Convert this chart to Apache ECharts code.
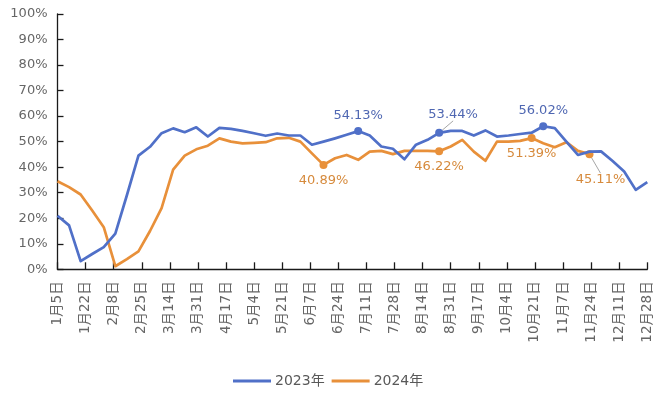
<!DOCTYPE html>
<html>
<head>
<meta charset="utf-8">
<script src="https://cdn.jsdelivr.net/npm/echarts@6/dist/echarts.min.js"></script>
<style>
html,body{margin:0;padding:0;background:#fff;}
#chart{width:666px;height:393px;}
</style>
</head>
<body>
<div id="chart"></div>
<script>
// Tick labels along the date axis (every 17 days from 1月5日)
const tickLabels = ['1月5日','1月22日','2月8日','2月25日','3月14日','3月31日','4月17日','5月4日','5月21日','6月7日','6月24日','7月11日','7月28日','8月14日','8月31日','9月17日','10月4日','10月21日','11月7日','11月24日','12月11日','12月28日'];
const TICK_DAYS = 17;
const WEEK_DAYS = 7;

const seriesNames = ['2023年', '2024年'];

// Weekly values (%), first week = 1月5日
const values2023 = [21.0, 17.2, 3.2, 6.0, 8.7, 14.0, 29.0, 44.5, 48.0, 53.3,
  55.2, 53.7, 55.6, 52.0, 55.4, 55.0, 54.2, 53.3, 52.3, 53.2,
  52.4, 52.4, 48.8, 50.0, 51.3, 52.7, 54.13, 52.4, 48.1, 47.2,
  43.1, 48.8, 50.7, 53.44, 54.2, 54.2, 52.4, 54.4, 52.0, 52.4,
  53.0, 53.5, 56.02, 55.3, 50.0, 44.8, 46.1, 46.2, 42.4, 38.3,
  31.1, 34.1];

const values2024 = [34.5, 32.2, 29.3, 23.0, 16.5, 1.2, 4.0, 7.0, 15.0, 24.0,
  39.0, 44.5, 47.0, 48.4, 51.3, 50.0, 49.3, 49.5, 49.8, 51.3,
  51.5, 50.0, 45.4, 40.89, 43.5, 44.8, 42.9, 46.1, 46.4, 45.1,
  46.4, 46.4, 46.4, 46.22, 48.1, 50.7, 46.1, 42.5, 50.0, 50.0,
  50.3, 51.39, 49.4, 47.8, 49.8, 46.4, 45.11];

// Week indices whose values are marked and labelled
const marked2023 = [26, 33, 42];
const marked2024 = [23, 33, 41, 46];

const blue = '#5070c8';
const orange = '#e8903a';
const blueText = '#4f67b2';
const orangeText = '#d68a3c';
const FONT = "'DejaVu Sans','Noto Sans CJK SC',sans-serif";

// label placement tweaks (style only): [dx, dy, leader line?]
const labelShift = {
  '2023': {26: [-6, 0, false], 33: [14, -3, true], 42: [1, -1, false]},
  '2024': {23: [0, 0, false], 33: [3, 2, false], 41: [1, 1, false], 46: [11, 10, true]}
};

function buildData(values, marked, key, color, textColor, pos) {
  return values.map((v, i) => {
    const item = { value: [i * WEEK_DAYS, v] };
    if (marked.includes(i)) {
      const sh = labelShift[key][i];
      item.symbol = 'circle';
      item.symbolSize = 8;
      item.itemStyle = { color: color };
      item.label = {
        show: true,
        position: pos,
        distance: 5,
        color: textColor,
        fontSize: 13,
        fontFamily: FONT,
        formatter: (p) => p.value[1].toFixed(2) + '%'
      };
      if (sh[2]) {
        item.labelLine = { show: true, lineStyle: { color: '#a6a6a6', width: 1 } };
      } else {
        item.label.offset = [sh[0], sh[1]];
      }
    }
    return item;
  });
}

function layoutFor(key) {
  return function (params) {
    const sh = labelShift[key][params.dataIndex];
    if (sh && sh[2]) {
      return { dx: sh[0], dy: sh[1] };
    }
    return {};
  };
}

const chart = echarts.init(document.getElementById('chart'), null, { renderer: 'canvas' });

const option = {
  backgroundColor: '#ffffff',
  animation: false,
  textStyle: { fontFamily: FONT },
  grid: { left: 57.5, right: 18.7, top: 14, bottom: 123.7, containLabel: false },
  legend: {
    data: seriesNames,
    left: 228,
    top: 369,
    icon: 'rect',
    itemWidth: 38,
    itemHeight: 3,
    itemGap: 7,
    textStyle: { color: '#595959', fontSize: 14, fontFamily: FONT, padding: [0, 0, 0, -1] }
  },
  xAxis: {
    type: 'value',
    min: 0,
    max: (tickLabels.length - 1) * TICK_DAYS,
    interval: TICK_DAYS,
    splitLine: { show: false },
    axisLine: { show: true, onZero: false, lineStyle: { color: '#1a1a1a', width: 1.3 } },
    axisTick: { show: true, inside: true, length: 7, lineStyle: { color: '#1a1a1a', width: 1.3 } },
    axisLabel: {
      rotate: 90,
      margin: 12,
      color: '#666666',
      fontSize: 13.5,
      fontFamily: FONT,
      formatter: (v) => tickLabels[Math.round(v / TICK_DAYS)] || ''
    }
  },
  yAxis: {
    type: 'value',
    min: 0,
    max: 100,
    interval: 10,
    splitLine: { show: false },
    axisLine: { show: true, lineStyle: { color: '#1a1a1a', width: 1.3 } },
    axisTick: { show: true, inside: true, length: 6, lineStyle: { color: '#1a1a1a', width: 1.3 } },
    axisLabel: {
      margin: 10,
      color: '#666666',
      fontSize: 13,
      fontFamily: FONT,
      formatter: '{value}%'
    }
  },
  series: [
    {
      name: seriesNames[0],
      type: 'line',
      symbol: 'none',
      showAllSymbol: true,
      color: blue,
      lineStyle: { color: blue, width: 2.7, join: 'round' },
      z: 3,
      labelLayout: layoutFor('2023'),
      data: buildData(values2023, marked2023, '2023', blue, blueText, 'top')
    },
    {
      name: seriesNames[1],
      type: 'line',
      symbol: 'none',
      showAllSymbol: true,
      color: orange,
      lineStyle: { color: orange, width: 2.7, join: 'round' },
      z: 2,
      labelLayout: layoutFor('2024'),
      data: buildData(values2024, marked2024, '2024', orange, orangeText, 'bottom')
    }
  ]
};

chart.setOption(option);
</script>
</body>
</html>
